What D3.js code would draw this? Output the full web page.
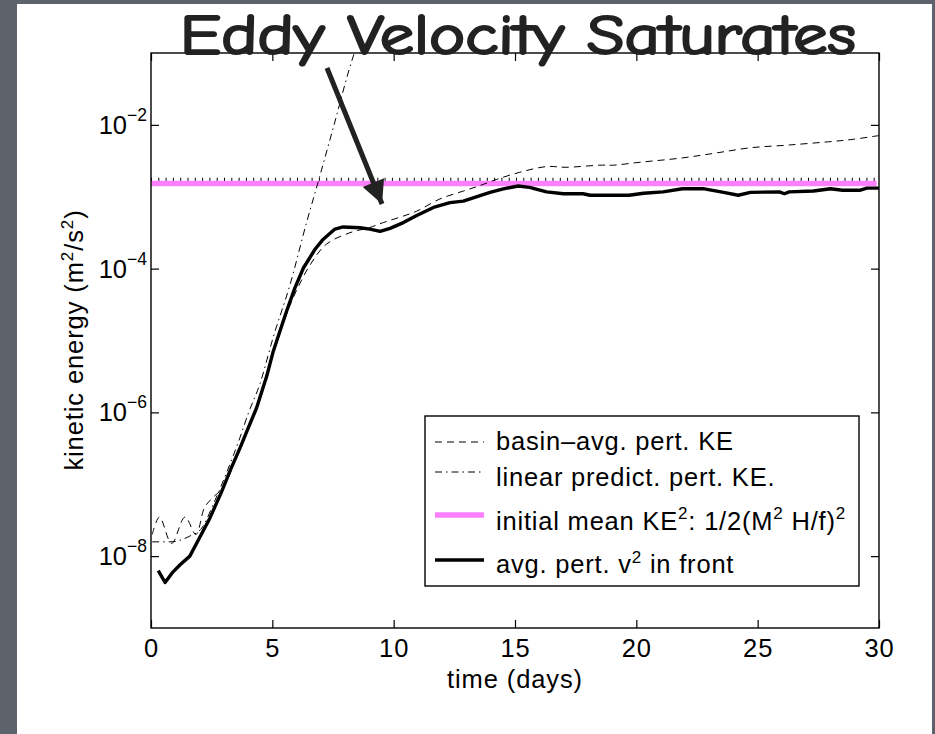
<!DOCTYPE html>
<html>
<head>
<meta charset="utf-8">
<script src="https://cdn.jsdelivr.net/npm/d3@7"></script>
<style>
  body { margin:0; background:#5e636b; }
  svg { display:block; }
  text { font-family: "Liberation Sans", Arial, Helvetica, sans-serif; fill:#000; }
</style>
</head>
<body>
<svg id="chart" width="935" height="734"></svg>
<script>
// values (time in days, kinetic energy in m^2/s^2)
var daysFront = [0.3,0.58,0.9,1.2,1.6,2.0,2.43,2.91,3.3,3.67,4.0,4.35,4.77,5.04,5.38,5.59,5.93,6.28,6.76,7.1,7.58,7.92,8.61,9.02,9.44,9.85,10.4,10.95,11.64,12.32,12.87,13.97,14.52,15.13,15.6,16.3,17.0,17.8,18.1,19.7,20.3,21.1,21.9,22.8,23.6,24.2,24.7,25.9,26.1,26.3,27.3,28.0,28.5,29.2,29.5,30];
var keFront = [6.3e-9,4.3e-9,6.0e-9,7.6e-9,1.0e-8,1.8e-8,3.4e-8,7.9e-8,1.66e-7,3.2e-7,6.0e-7,1.15e-6,3.2e-6,7.1e-6,1.58e-5,2.57e-5,5.4e-5,1.02e-4,1.86e-4,2.57e-4,3.55e-4,3.8e-4,3.7e-4,3.55e-4,3.3e-4,3.63e-4,4.37e-4,5.5e-4,7.1e-4,8.3e-4,8.7e-4,1.15e-3,1.29e-3,1.41e-3,1.35e-3,1.17e-3,1.10e-3,1.10e-3,1.05e-3,1.05e-3,1.12e-3,1.17e-3,1.29e-3,1.29e-3,1.15e-3,1.05e-3,1.15e-3,1.17e-3,1.10e-3,1.17e-3,1.20e-3,1.29e-3,1.23e-3,1.23e-3,1.32e-3,1.32e-3];

var daysBasin = [0.05,0.35,0.85,1.4,1.85,2.2,2.5,3.0,3.67,4.35,5.04,5.6,6.0,6.55,7.23,8.2,9.0,9.57,10.3,10.95,11.9,12.87,13.5,14.24,15.2,16.3,17.1,18.5,19.05,20.15,21.9,23.3,24.68,26.3,28.1,28.94,30];
var keBasin = [2.0e-8,3.5e-8,1.5e-8,3.5e-8,2.0e-8,4.7e-8,6.3e-8,9.3e-8,3.4e-7,1.2e-6,6.9e-6,2.4e-5,5.0e-5,1.12e-4,2.19e-4,3.16e-4,3.72e-4,4.37e-4,5.25e-4,6.3e-4,9.3e-4,1.20e-3,1.41e-3,1.74e-3,2.19e-3,2.63e-3,2.57e-3,2.75e-3,2.75e-3,3.02e-3,3.47e-3,4.07e-3,4.79e-3,5.25e-3,5.89e-3,6.3e-3,7.1e-3];

var daysLinear = [0.05,0.78,1.6,2.09,2.6,3.1,3.67,4.0,4.49,5.04,5.73,6.42,6.9,7.51,8.34,8.6];
var keLinear = [1.58e-8,1.58e-8,1.9e-8,2.45e-8,5.6e-8,1.41e-7,4.5e-7,9.5e-7,2.5e-6,1.12e-5,6.0e-5,4.5e-4,1.66e-3,9.1e-3,9.1e-2,1.6e-1];

var daysMean = [0,29.9];
var meanKE = 1.53e-3;
var refDotted = 1.74e-3;

var xTicks = [0,5,10,15,20,25,30];
var yTicks = [1e-8,1e-6,1e-4,1e-2];
var yTickExp = ["\u22128","\u22126","\u22124","\u22122"];

var svg = d3.select("#chart");

// white slide panel
svg.append("rect").attr("x",17).attr("y",4).attr("width",915).attr("height",730).attr("fill","#fff");

var x = d3.scaleLinear().domain([0,30]).range([151,879]);
var y = d3.scaleLog().domain([1e-9,1e-1]).range([628,53]);

svg.append("clipPath").attr("id","plotclip")
  .append("rect").attr("x",151).attr("y",53).attr("width",728).attr("height",575);

var plot = svg.append("g").attr("clip-path","url(#plotclip)");

var line = d3.line().x(function(d){ return x(d[0]); }).y(function(d){ return y(d[1]); });

// dotted reference under the pink line
plot.append("path")
  .datum(daysMean.map(function(t){ return [t, refDotted]; }))
  .attr("d", line).attr("fill","none").attr("stroke","#000")
  .attr("stroke-width",3.5).attr("stroke-dasharray","1 6.3");

plot.append("path")
  .datum(daysMean.map(function(t){ return [t, meanKE]; }))
  .attr("d", line).attr("fill","none").attr("stroke","#ff80ff").attr("stroke-width",5.5);

plot.append("path")
  .datum(daysLinear.map(function(t,i){ return [t, keLinear[i]]; }))
  .attr("d", line.curve(d3.curveMonotoneX)).attr("fill","none").attr("stroke","#000")
  .attr("stroke-width",1).attr("stroke-dasharray","7 4 1.5 4");

plot.append("path")
  .datum(daysBasin.map(function(t,i){ return [t, keBasin[i]]; }))
  .attr("d", line.curve(d3.curveCatmullRom)).attr("fill","none").attr("stroke","#000")
  .attr("stroke-width",1).attr("stroke-dasharray","7 5");

plot.append("path")
  .datum(daysFront.map(function(t,i){ return [t, keFront[i]]; }))
  .attr("d", line.curve(d3.curveLinear)).attr("fill","none").attr("stroke","#000")
  .attr("stroke-width",3.4).attr("stroke-linejoin","round");

// axes box and inward ticks
var tickLen = 8;
function styleAxis(g){
  g.select(".domain").remove();
  g.selectAll(".tick line").attr("stroke","#000").attr("stroke-width",1.2);
}
svg.append("g").attr("transform","translate(0,628)")
  .call(d3.axisBottom(x).tickValues(xTicks).tickSize(-tickLen).tickFormat(d3.format("d")).tickPadding(11))
  .call(styleAxis)
  .selectAll("text").attr("font-size",25.5).attr("letter-spacing","0.9px")
  .attr("font-family","Liberation Sans, Arial, sans-serif").attr("fill","#000");
svg.append("g").attr("transform","translate(0,53)")
  .call(d3.axisTop(x).tickValues(xTicks).tickSize(-tickLen).tickFormat(""))
  .call(styleAxis);
svg.append("g").attr("transform","translate(151,0)")
  .call(d3.axisLeft(y).tickValues(yTicks).tickSize(-tickLen).tickFormat(""))
  .call(styleAxis);
svg.append("g").attr("transform","translate(879,0)")
  .call(d3.axisRight(y).tickValues(yTicks).tickSize(-tickLen).tickFormat(""))
  .call(styleAxis);

svg.append("rect").attr("x",151).attr("y",53).attr("width",728).attr("height",575)
  .attr("fill","none").attr("stroke","#000").attr("stroke-width",1.4);

// y tick labels 10^n
var yl = svg.append("g").selectAll("text").data(yTicks).enter().append("text")
  .attr("x",147).attr("y",function(d){ return y(d)+9; })
  .attr("text-anchor","end").attr("font-size",25.5);
yl.append("tspan").text("10");
yl.append("tspan").attr("dy",-13).attr("font-size",17.5).text(function(d,i){ return yTickExp[i]; });

// axis labels
svg.append("text").attr("x",515).attr("y",688).attr("text-anchor","middle")
  .attr("font-size",25.5).attr("letter-spacing","0.9px").text("time (days)");

var ylab = svg.append("text").attr("transform","translate(83,340) rotate(-90)")
  .attr("text-anchor","middle").attr("font-size",25.5).attr("letter-spacing","0.9px");
ylab.append("tspan").text("kinetic energy (m");
ylab.append("tspan").attr("dy",-10).attr("font-size",17).text("2");
ylab.append("tspan").attr("dy",10).text("/s");
ylab.append("tspan").attr("dy",-10).attr("font-size",17).text("2");
ylab.append("tspan").attr("dy",10).text(")");

// legend
var lg = svg.append("g");
lg.append("rect").attr("x",425).attr("y",416).attr("width",434).attr("height",170)
  .attr("fill","#fff").attr("stroke","#000").attr("stroke-width",1.4);

var legendRows = [
  {ly:442, stroke:"#000", w:1, dash:"7 5"},
  {ly:472, stroke:"#000", w:1, dash:"7 4 1.5 4"},
  {ly:515, stroke:"#ff80ff", w:5.5, dash:null},
  {ly:560, stroke:"#000", w:3.4, dash:null}
];
legendRows.forEach(function(r){
  lg.append("line").attr("x1",435).attr("x2",484).attr("y1",r.ly).attr("y2",r.ly)
    .attr("stroke",r.stroke).attr("stroke-width",r.w).attr("stroke-dasharray",r.dash);
});
function legendText(ty){
  return lg.append("text").attr("x",496).attr("y",ty).attr("font-size",25.5).attr("letter-spacing","0.8px");
}
legendText(450).text("basin\u2013avg. pert. KE");
legendText(486).text("linear predict. pert. KE.");
var t3 = legendText(530);
t3.append("tspan").text("initial mean KE");
t3.append("tspan").attr("dy",-11).attr("font-size",17).text("2");
t3.append("tspan").attr("dy",11).text(": 1/2(M");
t3.append("tspan").attr("dy",-11).attr("font-size",17).text("2");
t3.append("tspan").attr("dy",11).text(" H/f)");
t3.append("tspan").attr("dy",-11).attr("font-size",17).text("2");
var t4 = legendText(573);
t4.append("tspan").text("avg. pert. v");
t4.append("tspan").attr("dy",-10).attr("font-size",17).text("2");
t4.append("tspan").attr("dy",10).text(" in front");

// slide annotation
svg.append("text").attr("x",180).attr("y",54)
  .attr("textLength",676).attr("lengthAdjust","spacingAndGlyphs")
  .style("font-family","'Comic Sans MS', 'Comic Neue', Chalkboard, 'DejaVu Sans', sans-serif")
  .style("fill","#222").style("stroke","#222").style("stroke-width",2.2)
  .style("stroke-linejoin","round").attr("font-size",57).text("Eddy Velocity Saturates");

svg.append("defs").append("marker").attr("id","head")
  .attr("viewBox","0 0 10 10").attr("refX",10).attr("refY",5)
  .attr("markerWidth",5.2).attr("markerHeight",4.6).attr("markerUnits","strokeWidth")
  .attr("orient","auto")
  .append("path").attr("d","M0,0 L10,5 L0,10 z").attr("fill","#222");

svg.append("line").attr("x1",327).attr("y1",68).attr("x2",382).attr("y2",204)
  .attr("stroke","#222").attr("stroke-width",5).attr("marker-end","url(#head)");
</script>
</body>
</html>
